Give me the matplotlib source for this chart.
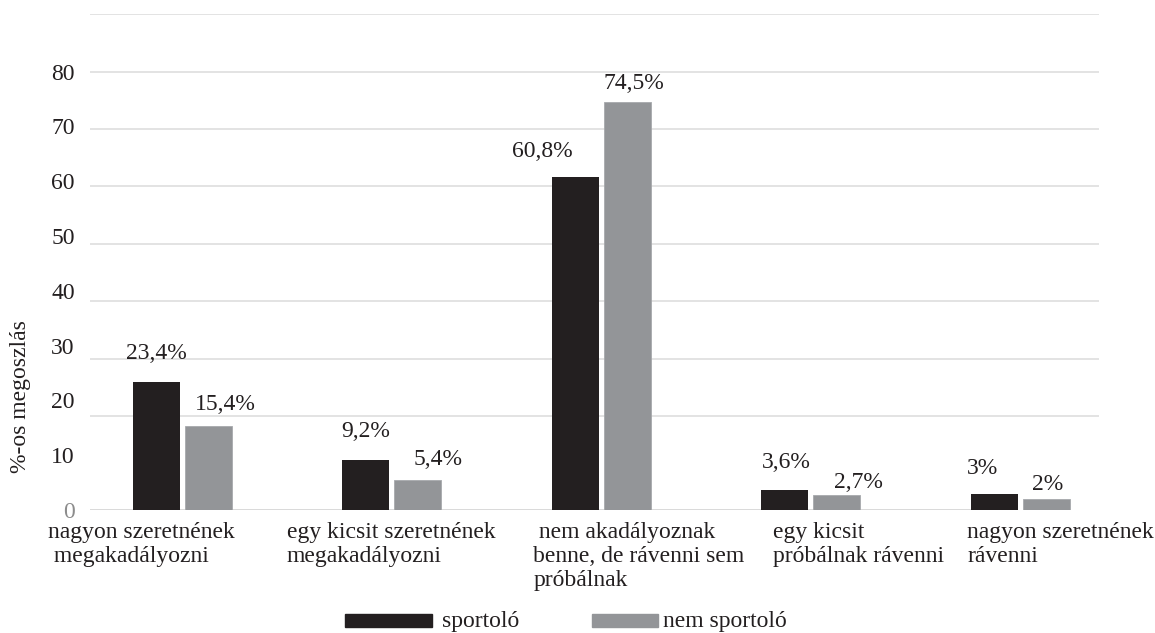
import matplotlib
matplotlib.use('Agg')
import matplotlib.pyplot as plt
from matplotlib.patches import Rectangle

plt.rcParams['font.family'] = ['Liberation Serif', 'DejaVu Serif']

categories = ["nagyon szeretnének\n megakadályozni",
              "egy kicsit szeretnének\nmegakadályozni",
              " nem akadályoznak\nbenne, de rávenni sem\npróbálnak",
              "egy kicsit\npróbálnak rávenni",
              "nagyon szeretnének\nrávenni"]
sportolo = [23.4, 9.2, 60.8, 3.6, 3.0]
nem_sportolo = [15.4, 5.4, 74.5, 2.7, 2.0]
series_names = ['sportoló', 'nem sportoló']

y_ticks = [0, 10, 20, 30, 40, 50, 60, 70, 80]
# gridlines as they sit in the picture (not on the tick positions)
grid_levels = [17.2, 27.6, 38.2, 48.6, 59.2, 69.6, 80.0, 90.5]

BLACK = '#231f20'
GRAY = '#939598'
FS = 17

W, H = 1155, 633
fig = plt.figure(figsize=(W / 100, H / 100), dpi=100)
ax = fig.add_axes([90 / W, (H - 510) / H, 1009 / W, 496 / H])

x = list(range(len(categories)))
bw = 0.2245
off = 0.124
b1 = ax.bar([i - off for i in x], sportolo, bw, color=BLACK, zorder=3)
b2 = ax.bar([i + off for i in x], nem_sportolo, bw, color=GRAY,
            edgecolor='#a7a9ac', linewidth=0.6, zorder=3)

ax.set_xlim(-0.4417, 4.377)
ax.set_ylim(0, 90.5)

ax.hlines(grid_levels, -0.4417, 4.377, color='#e3e3e3', lw=1.4, zorder=1)
ax.hlines(0, -0.4417, 3.88, color='#d9d9d9', lw=1.4, zorder=1)

for s in ax.spines.values():
    s.set_visible(False)
ax.set_xticks([])
ax.set_yticks(y_ticks)
ax.set_yticklabels([str(t) for t in y_ticks], fontsize=FS, color=BLACK)
ax.get_yticklabels()[0].set_color('#8c8c8c')
ax.tick_params(axis='y', length=0, pad=11)

def fmt(v):
    return ('%g' % v).replace('.', ',') + '%'

# hand-placed label offsets (pixels) relative to top centre of each bar
off_black = [(0, 23), (0, 23), (-33, 20), (1.5, 22), (-12, 20)]
off_gray = [(16.5, 16), (20, 15), (7, 13), (22, 7), (2, 9)]
for bars, vals, offs in [(b1, sportolo, off_black), (b2, nem_sportolo, off_gray)]:
    for rect, v, (dx, dy) in zip(bars, vals, offs):
        ax.annotate(fmt(v), (rect.get_x() + rect.get_width() / 2, v),
                    xytext=(dx, dy), textcoords='offset pixels',
                    ha='center', va='baseline', fontsize=FS, color=BLACK)

# category labels, left aligned like the original
cat_dx = [-134.5, -105, -68, -38, -53]
for i, (lab, dx) in enumerate(zip(categories, cat_dx)):
    ax.annotate(lab, (i, 0), xytext=(dx, -12), textcoords='offset pixels',
                ha='left', va='top', fontsize=FS, color=BLACK,
                multialignment='left', annotation_clip=False)

fig.text(21 / W, 1 - 397 / H, '%-os megoszlás', rotation=90, ha='center',
         va='center', fontsize=FS, color=BLACK)

# legend
fig.patches.append(Rectangle((345 / W, (H - 627) / H), 87 / W, 13 / H,
                             transform=fig.transFigure, color=BLACK))
fig.patches.append(Rectangle((592 / W, (H - 627) / H), 66 / W, 13 / H,
                             transform=fig.transFigure, color=GRAY))
fig.text(442 / W, (H - 627) / H, series_names[0], fontsize=FS, color=BLACK,
         va='baseline')
fig.text(663 / W, (H - 627) / H, series_names[1], fontsize=FS, color=BLACK,
         va='baseline')

fig.savefig('out.png', dpi=100)
